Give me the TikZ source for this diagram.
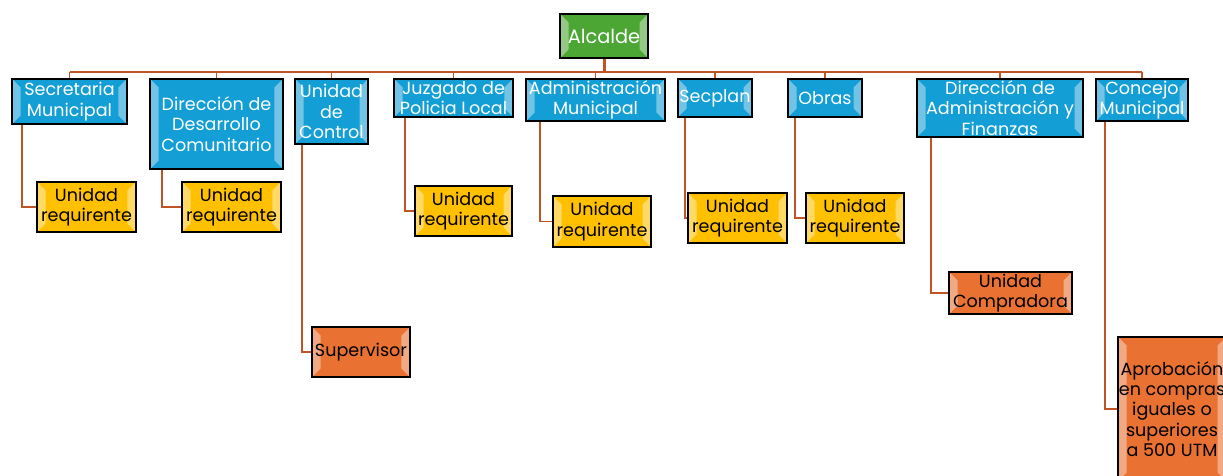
\documentclass[tikz,border=0pt]{standalone}
\usepackage{fontspec}
\setmainfont{Poppins}
\usetikzlibrary{positioning}
\definecolor{boxblue}{RGB}{20,158,214}
\definecolor{boxgreen}{RGB}{76,166,52}
\definecolor{boxgold}{RGB}{255,192,0}
\definecolor{boxorange}{RGB}{233,113,50}
\definecolor{linkbrown}{RGB}{193,84,36}

\tikzset{
  orgbox/.style={draw=black,line width=1pt,align=center,inner sep=0pt,
    font=\fontsize{10}{11.6}\selectfont,
    path picture={
      \fill[white,opacity=.4]
        (path picture bounding box.north west) -- ++(.17cm,-.17cm)
        -- ([shift={(.17cm,.17cm)}]path picture bounding box.south west)
        -- (path picture bounding box.south west) -- cycle;
      \fill[white,opacity=.4]
        (path picture bounding box.north east) -- ++(-.17cm,-.17cm)
        -- ([shift={(-.17cm,.17cm)}]path picture bounding box.south east)
        -- (path picture bounding box.south east) -- cycle;
    }},
  headbox/.style={orgbox,fill=boxgreen,text=white,font=\fontsize{11}{13}\selectfont},
  deptbox/.style={orgbox,fill=boxblue,text=white},
  unitbox/.style={orgbox,fill=boxgold,text=black},
  keybox/.style={orgbox,fill=boxorange,text=black},
  link/.style={draw=linkbrown,line width=1.1pt},
  trunk/.style={draw=linkbrown,line width=1.7pt}
}

\begin{document}
\begin{tikzpicture}[x=0.02cm,y=-0.02cm]
  \useasboundingbox (0,0) rectangle (1223,476);
  \clip (0,0) rectangle (1223,476);
  % top of the chart
  \node[headbox,minimum width=1.76cm,minimum height=0.88cm] (alc) at (604,36) {Alcalde};
  \coordinate (bar) at (604,72);
  % departments
  \node[deptbox,minimum width=2.30cm,minimum height=0.90cm] (sec) at (69.5,101.5) {Secretaria\\Municipal};
  \node[deptbox,minimum width=2.66cm,minimum height=1.80cm] (ddc) at (216.5,124) {Dirección de\\Desarrollo\\Comunitario};
  \node[deptbox,minimum width=1.46cm,minimum height=1.30cm] (ctrl) at (331.5,111.5) {Unidad\\de\\Control};
  \node[deptbox,minimum width=2.38cm,minimum height=0.76cm] (juz) at (453.5,98) {Juzgado de\\Policia Local};
  \node[deptbox,minimum width=2.78cm,minimum height=0.84cm] (adm) at (595.5,100) {Administración\\Municipal};
  \node[deptbox,minimum width=1.48cm,minimum height=0.76cm] (secp) at (715,98) {Secplan};
  \node[deptbox,minimum width=1.48cm,minimum height=0.76cm] (obras) at (825,98) {Obras};
  \node[deptbox,minimum width=3.32cm,minimum height=1.16cm] (daf) at (1000,108) {Dirección de\\Administración y\\Finanzas};
  \node[deptbox,minimum width=1.84cm,minimum height=0.84cm] (conc) at (1142,100) {Concejo\\Municipal};
  % units below each department
  \node[unitbox,minimum width=1.98cm,minimum height=1.00cm] (ur1) at (86.5,207) {Unidad\\requirente};
  \node[unitbox,minimum width=1.98cm,minimum height=1.00cm] (ur2) at (231.5,207) {Unidad\\requirente};
  \node[keybox,minimum width=1.96cm,minimum height=1.00cm] (sup) at (361,352) {Supervisor};
  \node[unitbox,minimum width=1.94cm,minimum height=1.00cm] (ur3) at (463.5,211) {Unidad\\requirente};
  \node[unitbox,minimum width=1.96cm,minimum height=1.02cm] (ur4) at (602,221.5) {Unidad\\requirente};
  \node[unitbox,minimum width=1.98cm,minimum height=1.00cm] (ur5) at (737.5,218) {Unidad\\requirente};
  \node[unitbox,minimum width=1.96cm,minimum height=1.00cm] (ur6) at (855,218) {Unidad\\requirente};
  \node[keybox,minimum width=2.46cm,minimum height=0.84cm] (comp) at (1010.5,293) {Unidad\\Compradora};
  \node[keybox,minimum width=2.16cm,minimum height=2.88cm] (apr) at (1172,409) {Aprobación\\en compras\\iguales o\\superiores\\a 500 UTM};
  % connectors
  \draw[trunk] (alc.south) -- (bar);
  \draw[trunk] (sec.north |- bar) -- (conc.north |- bar);
  \draw[link] (sec.north) -- (sec.north |- bar);
  \draw[link] (ddc.north) -- (ddc.north |- bar);
  \draw[link] (ctrl.north) -- (ctrl.north |- bar);
  \draw[link] (juz.north) -- (juz.north |- bar);
  \draw[link] (adm.north) -- (adm.north |- bar);
  \draw[link] (secp.north) -- (secp.north |- bar);
  \draw[link] (obras.north) -- (obras.north |- bar);
  \draw[link] (daf.north) -- (daf.north |- bar);
  \draw[link] (conc.north) -- (conc.north |- bar);
  \draw[link] ([xshift=0.22cm]sec.south west) |- (ur1.west);
  \draw[link] ([xshift=0.26cm]ddc.south west) |- (ur2.west);
  \draw[link] ([xshift=0.16cm]ctrl.south west) |- (sup.west);
  \draw[link] ([xshift=0.24cm]juz.south west) |- (ur3.west);
  \draw[link] ([xshift=0.30cm]adm.south west) |- (ur4.west);
  \draw[link] ([xshift=0.16cm]secp.south west) |- (ur5.west);
  \draw[link] ([xshift=0.16cm]obras.south west) |- (ur6.west);
  \draw[link] ([xshift=0.30cm]daf.south west) |- (comp.west);
  \draw[link] ([xshift=0.20cm]conc.south west) |- (apr.west);
\end{tikzpicture}
\end{document}
